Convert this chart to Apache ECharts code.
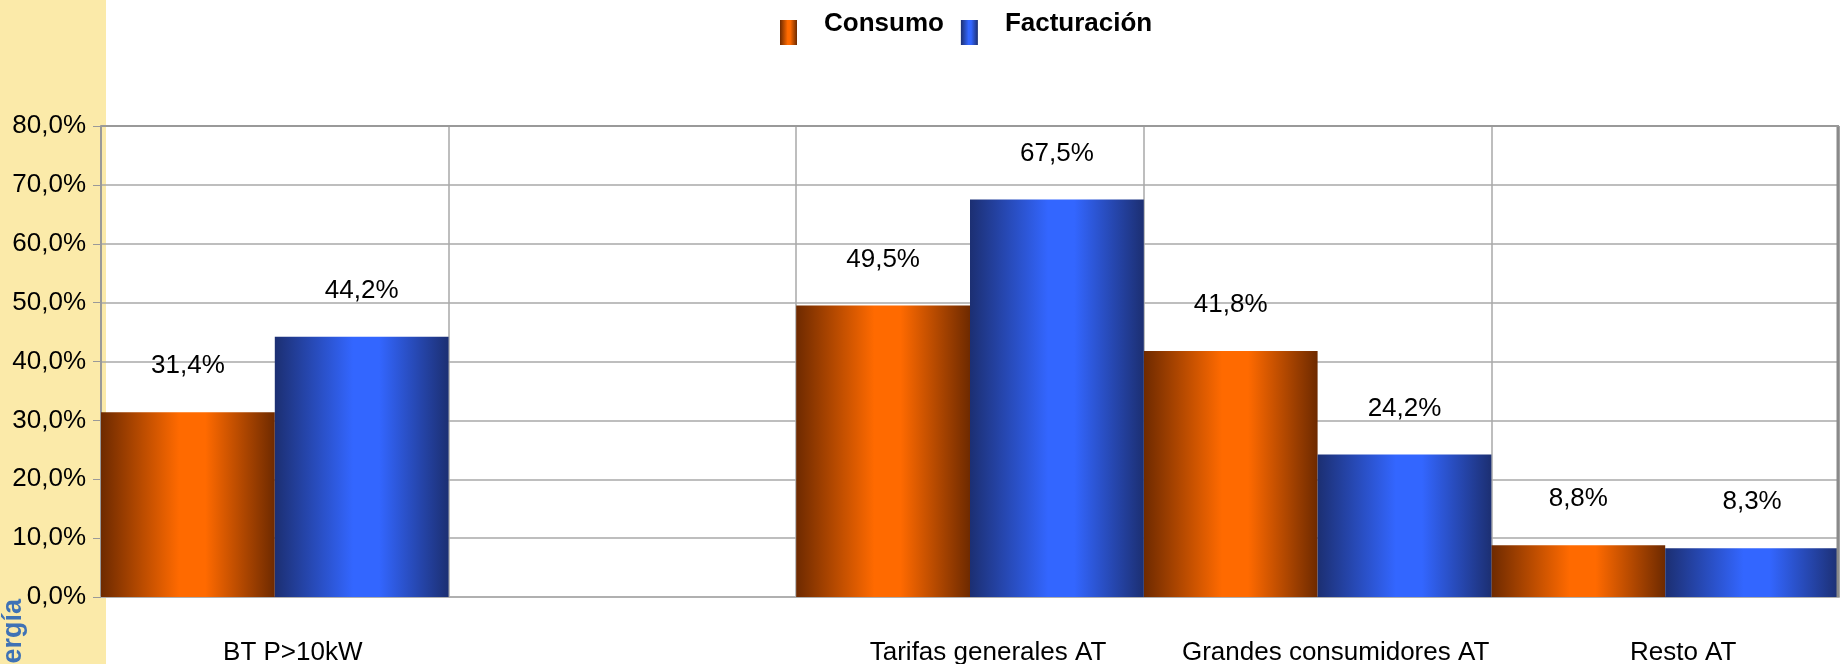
<!DOCTYPE html>
<html>
<head>
<meta charset="utf-8">
<script src="https://cdn.jsdelivr.net/npm/echarts@6/dist/echarts.min.js"></script>
<style>
  html, body { margin: 0; padding: 0; background: #fff; }
  #chart { width: 1841px; height: 664px; }
</style>
</head>
<body>
<div id="chart"></div>
<script>
// categorias (la segunda columna va vacia en el original)
const categories = ['BT P>10kW', '', 'Tarifas generales AT', 'Grandes consumidores AT', 'Resto AT'];
const consumo = [31.4, '-', 49.5, 41.8, 8.8];
const facturacion = [44.2, '-', 67.5, 24.2, 8.3];
const seriesNames = ['Consumo', 'Facturación'];

const fmt = (v) => v.toFixed(1).replace('.', ',') + '%';
const FONT = 'Liberation Sans, Arial, sans-serif';

// degradado tipo cilindro
const barGradient = (dark, light) =>
  new echarts.graphic.LinearGradient(0, 0, 1, 0, [
    { offset: 0, color: dark },
    { offset: 0.45, color: light },
    { offset: 0.6, color: light },
    { offset: 1, color: dark },
  ]);

const chart = echarts.init(document.getElementById('chart'));

const labelStyle = {
  show: true,
  position: 'top',
  distance: 33,
  color: '#000',
  fontSize: 26,
  fontFamily: FONT,
  formatter: (p) => fmt(p.value),
};

const baseGraphic = [
  {
    type: 'rect',
    left: 0,
    top: 0,
    z: -10,
    shape: { width: 106, height: 664 },
    style: { fill: '#fbeaa9' },
  },
  {
    type: 'text',
    x: 0,
    y: 698,
    rotation: Math.PI / 2,
    style: {
      text: 'Energía',
      fill: '#3f72b5',
      font: 'bold 27px ' + FONT,
      textVerticalAlign: 'top',
    },
  },
];

const option = {
  backgroundColor: '#fff',
  animation: false,
  graphic: baseGraphic,
  legend: {
    left: 775,
    top: 6,
    itemWidth: 17,
    itemHeight: 25,
    itemGap: 17,
    icon: 'rect',
    data: seriesNames,
    formatter: '{t|{name}}',
    textStyle: {
      padding: [0, 0, 0, 22],
      rich: {
        t: {
          fontSize: 26,
          fontWeight: 'bold',
          color: '#000',
          fontFamily: FONT,
          padding: [0, 0, 17, 0],
        },
      },
    },
  },
  grid: {
    left: 101,
    right: 2,
    top: 126,
    bottom: 67,
    containLabel: false,
    outerBoundsMode: 'none',
  },
  xAxis: {
    type: 'category',
    data: categories,
    axisLine: { show: true, lineStyle: { color: '#b0b0b0', width: 2 } },
    axisTick: { show: false },
    axisLabel: {
      margin: 43,
      fontSize: 26,
      color: '#000',
      fontFamily: FONT,
      padding: [0, 0, 0, 36],
      interval: 0,
    },
    splitLine: { show: true, lineStyle: { color: '#a8a8a8', width: 1.5 } },
  },
  yAxis: {
    type: 'value',
    min: 0,
    max: 80,
    interval: 10,
    axisLine: { show: true, lineStyle: { color: '#999', width: 2 } },
    axisTick: { show: true, length: 8, lineStyle: { color: '#999' } },
    axisLabel: {
      margin: 15,
      fontSize: 26,
      color: '#000',
      fontFamily: FONT,
      formatter: (v) => fmt(v),
    },
    splitLine: { show: true, lineStyle: { color: '#a8a8a8', width: 1.5 } },
  },
  series: [
    {
      name: seriesNames[0],
      type: 'bar',
      data: consumo,
      barGap: '0%',
      barCategoryGap: '0%',
      itemStyle: { color: barGradient('#6e2a00', '#ff6a00') },
      label: labelStyle,
    },
    {
      name: seriesNames[1],
      type: 'bar',
      data: facturacion,
      barGap: '0%',
      barCategoryGap: '0%',
      itemStyle: { color: barGradient('#1c2f72', '#3366ff') },
      label: labelStyle,
    },
  ],
};

chart.setOption(option);

// borde derecho y superior mas marcados
const topY = chart.convertToPixel({ gridIndex: 0 }, [0, 80])[1];
const botY = chart.convertToPixel({ gridIndex: 0 }, [0, 0])[1];
chart.setOption({
  graphic: baseGraphic.concat([
    {
      type: 'line',
      z: 10,
      shape: { x1: 1838, y1: topY, x2: 1838, y2: botY },
      style: { stroke: '#8a8a8a', lineWidth: 3 },
    },
    {
      type: 'line',
      z: 10,
      shape: { x1: 101, y1: topY, x2: 1839, y2: topY },
      style: { stroke: '#999', lineWidth: 2 },
    },
  ]),
});
</script>
</body>
</html>
